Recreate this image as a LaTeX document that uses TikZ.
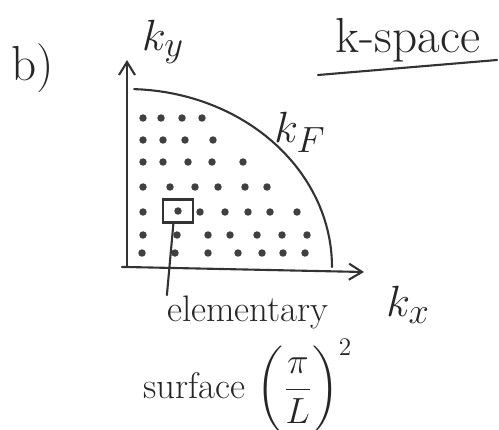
\documentclass[tikz,border=0pt]{standalone}
\usepackage{amsmath}
\usetikzlibrary{positioning,arrows.meta}
\tikzset{
  hand/.style={line width=1.2pt,black!80,line cap=round,line join=round},
  kaxis/.style={hand,-{Straight Barb[length=2.6mm,width=3.2mm]}},
  kpt/.style={circle,fill=black!75,inner sep=1.5pt},
  lbl/.style={font=\fontsize{21}{25}\selectfont,text=black!85,inner sep=0pt},
  klbl/.style={lbl,font=\fontsize{28}{32}\selectfont},
  cellbox/.style={draw=black!80,line width=1.3pt,minimum width=0.6cm,minimum height=0.46cm,inner sep=0pt},
}
\begin{document}
\begin{tikzpicture}[x=0.02cm,y=-0.02cm]
  \useasboundingbox (0,0) rectangle (499,429);
  % axes
  \coordinate (O) at (127,267);
  \coordinate (ytip) at (127,60);
  \coordinate (xtip) at (364,272);
  \draw[kaxis] (O) -- (ytip);
  \draw[kaxis] (122,267) -- (O) -- (xtip);
  % Fermi circle (one quarter)
  \draw[hand] plot[domain=88:0,samples=40] ({127+205*cos(\x)},{267-178*sin(\x)});
  % allowed states
  \foreach \y/\xs in {118/{143,161,182,202},140/{143,163,185,213},
      162/{143,163,188,212,243},187/{143,170,195,218,245,267},
      212/{143,200,225,248,270,297},235/{143,177,208,230,257,282,307},
      253/{142,175,208,238,262,283,305}}{
    \foreach \x in \xs
      \node[kpt] at (\x,\y) {};
  }
  \node[cellbox] (cell) at (178,211) {};
  \node[kpt] at (cell.center) {};
  % labels
  \node[klbl] (part) at (33,68) {b)};
  \node[klbl] (ky) at (163,42) {$k_y$};
  \node[klbl] (kF) at (300,132) {$k_F$};
  \node[klbl] (kx) at (408,305) {$k_x$};
  \node[klbl] (title) at (408,40) {k-space};
  \coordinate (ul1) at (318,75);
  \coordinate (ul2) at (497,60);
  \draw[hand] (ul1) -- (ul2);
  \node[lbl] (elem) at (248,312) {elementary};
  \node[lbl,anchor=west] (surf) at (143,386) {surface $\biggl(\dfrac{\pi}{L}\biggr)^{2}$};
  \draw[hand] (cell.250) -- (elem.north west);
\end{tikzpicture}
\end{document}
